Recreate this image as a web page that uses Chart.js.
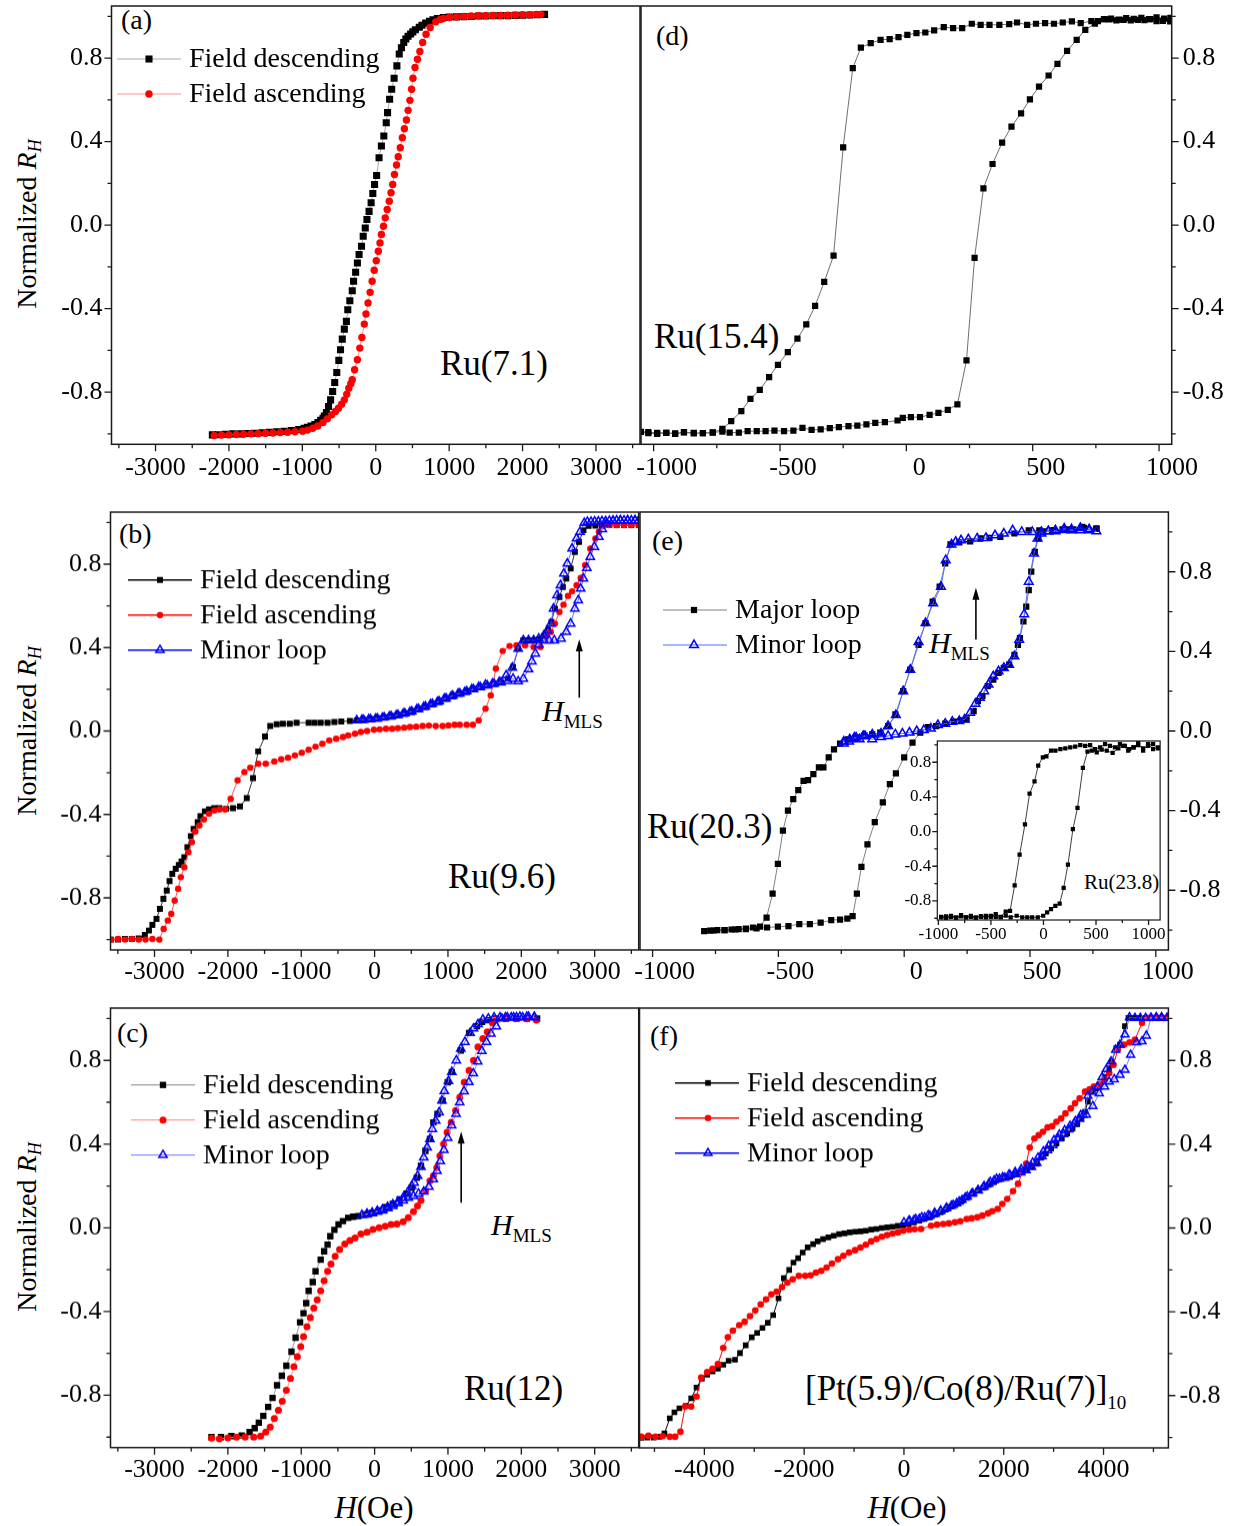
<!DOCTYPE html>
<html><head><meta charset="utf-8">
<script src="https://cdn.jsdelivr.net/npm/chart.js@4/dist/chart.umd.min.js"></script>
<style>
html,body{margin:0;padding:0;background:#fff;}
body{width:1237px;height:1526px;position:relative;overflow:hidden;font-family:'Liberation Serif','Times New Roman',serif;color:#000;}
canvas{position:absolute;}
.t{position:absolute;white-space:nowrap;line-height:1;transform:translateY(-50%);}
.c{position:absolute;white-space:nowrap;line-height:1;transform:translate(-50%,-50%);}
.yt{position:absolute;white-space:nowrap;line-height:1;font-size:28px;transform:translate(-50%,-50%) rotate(-90deg);}
.sub{position:relative;}
</style></head><body>
<div class="t" style="left:121px;top:20px;font-size:28px">(a)</div>
<div class="t" style="left:656px;top:36px;font-size:28px">(d)</div>
<div class="t" style="left:119px;top:534px;font-size:28px">(b)</div>
<div class="t" style="left:652px;top:541px;font-size:28px">(e)</div>
<div class="t" style="left:117px;top:1033px;font-size:28px">(c)</div>
<div class="t" style="left:650px;top:1036px;font-size:28px">(f)</div>
<div class="t" style="left:440px;top:363px;font-size:35px">Ru(7.1)</div>
<div class="t" style="left:654px;top:336px;font-size:35px">Ru(15.4)</div>
<div class="t" style="left:448px;top:876px;font-size:35px">Ru(9.6)</div>
<div class="t" style="left:647px;top:826px;font-size:35px">Ru(20.3)</div>
<div class="t" style="left:464px;top:1388px;font-size:35px">Ru(12)</div>
<div class="t" style="left:805px;top:1388px;font-size:35px">[Pt(5.9)/Co(8)/Ru(7)]<span class="sub" style="font-size:19px;top:9px">10</span></div>
<div class="t" style="left:1084px;top:882px;font-size:21px">Ru(23.8)</div>
<div class="t" style="left:542px;top:711px;font-size:30px"><i>H</i><span class="sub" style="font-size:19px;top:7px">MLS</span></div>
<div class="t" style="left:929px;top:643px;font-size:30px"><i>H</i><span class="sub" style="font-size:19px;top:7px">MLS</span></div>
<div class="t" style="left:491px;top:1225px;font-size:30px"><i>H</i><span class="sub" style="font-size:19px;top:7px">MLS</span></div>
<div class="c" style="left:374px;top:1507px;font-size:31px"><i>H</i>(Oe)</div>
<div class="c" style="left:907px;top:1507px;font-size:31px"><i>H</i>(Oe)</div>
<div class="yt" style="left:27px;top:224px">Normalized <i>R</i><i class="sub" style="font-size:18px;top:5px">H</i></div>
<div class="yt" style="left:27px;top:731px">Normalized <i>R</i><i class="sub" style="font-size:18px;top:5px">H</i></div>
<div class="yt" style="left:27px;top:1227px">Normalized <i>R</i><i class="sub" style="font-size:18px;top:5px">H</i></div>
<script>
// ---------- tick values ----------
const ticksWideX = [-3000,-2000,-1000,0,1000,2000,3000];
const minorWideX = [-3500,-2500,-1500,-500,500,1500,2500,3500];
const ticksNarrowX = [-1000,-500,0,500,1000];
const minorNarrowX = [-750,-250,250,750];
const ticksF_X = [-4000,-2000,0,2000,4000];
const minorF_X = [-5000,-3000,-1000,1000,3000,5000];
const ticksY = [-0.8,-0.4,0,0.4,0.8];
const minorY = [-1.0,-0.6,-0.2,0.2,0.6,1.0];

// ---------- (a) Ru(7.1) ----------
const aDescH = [2300,2200,2100,2000,1900,1800,1700,1600,1500,1400,1300,1200,1100,1000,920,840,780,733,680,630,593,540,505,475,440,410,381,350,320,288,250,217,189,161,143,110,77,45,12,-16,-40,-63,-91,-120,-143,-171,-194,-227,-250,-274,-302,-320,-353,-381,-400,-428,-456,-480,-503,-531,-559,-587,-615,-643,-672,-700,-718,-750,-788,-830,-881,-930,-975,-1050,-1150,-1250,-1350,-1450,-1550,-1650,-1750,-1850,-1950,-2050,-2150,-2226];
const aDescR = [1.01,1.008,1.007,1.006,1.005,1.004,1.004,1.003,1.002,1.002,1.0,0.999,0.998,0.997,0.995,0.99,0.984,0.977,0.968,0.958,0.948,0.936,0.926,0.916,0.905,0.892,0.875,0.85,0.82,0.763,0.704,0.651,0.603,0.539,0.491,0.427,0.379,0.323,0.238,0.195,0.152,0.107,0.066,0.027,-0.014,-0.053,-0.101,-0.141,-0.181,-0.226,-0.269,-0.314,-0.362,-0.405,-0.461,-0.498,-0.546,-0.597,-0.648,-0.706,-0.754,-0.797,-0.837,-0.869,-0.898,-0.915,-0.925,-0.935,-0.946,-0.955,-0.962,-0.968,-0.973,-0.979,-0.984,-0.988,-0.99,-0.993,-0.995,-0.997,-0.998,-1.0,-1.0,-1.002,-1.004,-1.005];
const aAscH = [-2200,-2100,-2000,-1900,-1800,-1700,-1600,-1500,-1400,-1300,-1200,-1100,-997,-930,-859,-790,-719,-660,-602,-550,-508,-465,-428,-395,-367,-340,-320,-288,-250,-217,-189,-156,-133,-105,-77,-49,-21,7,35,58,77,105,129,156,184,208,231,255,283,306,334,362,390,418,441,465,488,507,535,568,601,639,685,742,817,880,920,1000,1100,1200,1300,1400,1500,1600,1700,1800,1900,2000,2100,2200,2250];
const aAscR = [-1.008,-1.006,-1.005,-1.003,-1.002,-1.0,-0.999,-0.997,-0.996,-0.994,-0.992,-0.99,-0.987,-0.982,-0.973,-0.962,-0.946,-0.928,-0.909,-0.893,-0.877,-0.858,-0.837,-0.81,-0.781,-0.76,-0.741,-0.693,-0.645,-0.589,-0.538,-0.474,-0.426,-0.373,-0.322,-0.269,-0.216,-0.17,-0.125,-0.085,-0.045,-0.005,0.035,0.075,0.115,0.155,0.195,0.243,0.288,0.328,0.371,0.419,0.462,0.504,0.55,0.598,0.651,0.704,0.755,0.795,0.832,0.875,0.915,0.947,0.974,0.985,0.99,0.995,0.998,1.0,1.002,1.003,1.004,1.005,1.005,1.006,1.007,1.008,1.008,1.01,1.01];

// ---------- (d) Ru(15.4) ----------
const dUpperH = [1044,1015,990,966,942,916,888,860,831,803,782,758,732,690,655,619,584,549,513,478,438,407,368,329,294,259,221,185,148,110,75,40,4,-31,-66,-102,-141,-180,-212,-250,-288,-325,-361,-396,-431,-469,-508,-543,-580,-617,-653,-693,-728,-766,-805,-841,-880,-915,-950,-986,-1021,-1050];
const dUpperR = [0.976,0.979,0.978,0.987,0.982,0.984,0.981,0.983,0.981,0.986,0.987,0.978,0.978,0.968,0.976,0.971,0.965,0.968,0.965,0.96,0.971,0.963,0.96,0.96,0.96,0.965,0.944,0.944,0.949,0.933,0.923,0.92,0.912,0.901,0.891,0.888,0.872,0.851,0.752,0.373,-0.146,-0.272,-0.387,-0.475,-0.544,-0.608,-0.669,-0.728,-0.789,-0.832,-0.891,-0.939,-0.976,-0.994,-0.997,-0.995,-0.992,-1.0,-0.995,-0.995,-0.992,-0.99];
const dLowerH = [-1021,-986,-950,-915,-880,-841,-805,-766,-728,-699,-663,-628,-592,-557,-522,-484,-447,-411,-375,-339,-303,-267,-229,-194,-158,-123,-85,-35,-14,18,54,92,127,164,202,238,270,305,341,379,416,454,489,525,563,598,636,674,708,746,782,810,840,870,900,930,960,990,1020,1045];
const dLowerR = [-0.997,-1.0,-0.995,-0.998,-0.993,-0.998,-0.996,-0.993,-0.989,-0.994,-0.994,-0.987,-0.987,-0.987,-0.984,-0.987,-0.984,-0.971,-0.981,-0.979,-0.973,-0.968,-0.963,-0.96,-0.955,-0.947,-0.944,-0.936,-0.923,-0.92,-0.92,-0.909,-0.899,-0.885,-0.859,-0.648,-0.157,0.176,0.293,0.395,0.472,0.536,0.603,0.664,0.717,0.773,0.835,0.888,0.936,0.965,0.987,0.99,0.985,0.992,0.988,0.993,0.987,0.995,0.99,0.993];

// ---------- (b) Ru(9.6) : [H, RH] ----------
const bDesc = [[3600,0.987],[3500,0.987],[3400,0.987],[3300,0.987],[3200,0.987],[3100,0.987],[3010,0.985],[2917,0.984],[2847,0.963],[2786,0.907],[2730,0.859],[2673,0.779],[2613,0.731],[2566,0.691],[2519,0.643],[2458,0.587],[2411,0.523],[2365,0.483],[2308,0.456],[2238,0.44],[2168,0.435],[2098,0.435],[2027,0.435],[1957,0.395],[1887,0.307],[1817,0.251],[1723,0.235],[1629,0.227],[1536,0.219],[1442,0.211],[1348,0.203],[1255,0.192],[1161,0.182],[1067,0.171],[974,0.158],[880,0.146],[787,0.131],[693,0.118],[599,0.107],[506,0.096],[412,0.086],[318,0.078],[225,0.072],[131,0.066],[37,0.061],[-56,0.058],[-150,0.054],[-243,0.051],[-337,0.048],[-454,0.046],[-548,0.043],[-641,0.04],[-735,0.04],[-819,0.04],[-899,0.04],[-1063,0.04],[-1156,0.035],[-1250,0.035],[-1334,0.032],[-1423,0.024],[-1494,-0.026],[-1587,-0.098],[-1657,-0.226],[-1742,-0.322],[-1835,-0.362],[-1929,-0.37],[-2023,-0.373],[-2116,-0.37],[-2186,-0.37],[-2257,-0.376],[-2313,-0.385],[-2374,-0.408],[-2411,-0.437],[-2467,-0.469],[-2505,-0.504],[-2552,-0.557],[-2594,-0.605],[-2631,-0.626],[-2669,-0.642],[-2711,-0.661],[-2758,-0.685],[-2795,-0.72],[-2833,-0.765],[-2879,-0.805],[-2926,-0.853],[-2973,-0.901],[-3029,-0.93],[-3076,-0.957],[-3132,-0.978],[-3216,-0.994],[-3310,-0.997],[-3404,-0.997],[-3497,-1.0],[-3591,-1.0]];
const bAsc = [[-3591,-1.0],[-3497,-0.997],[-3404,-1.0],[-3310,-0.997],[-3216,-1.0],[-3123,-1.0],[-3029,-0.997],[-2935,-1.0],[-2875,-0.949],[-2819,-0.909],[-2772,-0.877],[-2725,-0.813],[-2678,-0.757],[-2641,-0.701],[-2594,-0.653],[-2538,-0.581],[-2491,-0.533],[-2444,-0.482],[-2388,-0.453],[-2327,-0.424],[-2257,-0.397],[-2186,-0.381],[-2116,-0.376],[-2037,-0.376],[-1962,-0.325],[-1868,-0.237],[-1775,-0.197],[-1695,-0.176],[-1587,-0.157],[-1484,-0.157],[-1367,-0.146],[-1273,-0.136],[-1180,-0.128],[-1086,-0.117],[-993,-0.104],[-899,-0.09],[-805,-0.075],[-712,-0.061],[-618,-0.045],[-524,-0.037],[-431,-0.029],[-361,-0.021],[-267,-0.013],[-187,-0.005],[-103,0.0],[-9,0.006],[70,0.008],[155,0.011],[239,0.011],[318,0.014],[403,0.016],[482,0.019],[567,0.021],[655,0.024],[740,0.026],[833,0.024],[927,0.024],[1007,0.027],[1091,0.03],[1161,0.03],[1255,0.03],[1339,0.03],[1419,0.051],[1512,0.107],[1583,0.171],[1653,0.299],[1746,0.384],[1840,0.408],[1934,0.411],[2051,0.411],[2168,0.403],[2261,0.403],[2346,0.456],[2402,0.475],[2458,0.515],[2519,0.571],[2575,0.606],[2636,0.648],[2692,0.67],[2753,0.699],[2809,0.734],[2870,0.795],[2940,0.875],[3010,0.923],[3057,0.955],[3114,0.984],[3200,0.987],[3300,0.987],[3400,0.987],[3500,0.987],[3600,0.987]];
const bMinor = [[3600,1.01],[3550,1.01],[3500,1.01],[3450,1.01],[3400,1.01],[3350,1.01],[3300,1.01],[3250,1.008],[3200,1.008],[3150,1.006],[3100,1.006],[3050,1.005],[3000,1.005],[2950,1.003],[2900,1.003],[2858,0.998],[2800,0.955],[2753,0.923],[2692,0.875],[2627,0.803],[2580,0.755],[2533,0.699],[2486,0.651],[2439,0.587],[2402,0.515],[2355,0.483],[2308,0.459],[2238,0.443],[2168,0.435],[2098,0.435],[2027,0.435],[1957,0.395],[1877,0.304],[1793,0.267],[1700,0.235],[1606,0.227],[1512,0.222],[1419,0.211],[1325,0.2],[1231,0.187],[1138,0.179],[1044,0.166],[950,0.155],[857,0.139],[763,0.128],[670,0.115],[576,0.104],[482,0.091],[389,0.083],[295,0.075],[201,0.069],[108,0.064],[14,0.059],[-80,0.056],[-173,0.054],[-243,0.051],[-150,0.053],[-56,0.056],[37,0.06],[131,0.065],[225,0.071],[318,0.077],[412,0.085],[506,0.094],[599,0.105],[693,0.117],[787,0.13],[880,0.142],[974,0.156],[1067,0.169],[1161,0.18],[1255,0.19],[1348,0.2],[1442,0.21],[1536,0.218],[1629,0.226],[1723,0.233],[1817,0.24],[1887,0.251],[1957,0.238],[2027,0.251],[2098,0.296],[2144,0.334],[2191,0.371],[2238,0.414],[2308,0.435],[2378,0.435],[2449,0.435],[2542,0.443],[2613,0.475],[2673,0.515],[2730,0.587],[2776,0.627],[2809,0.683],[2847,0.731],[2893,0.782],[2940,0.835],[2996,0.883],[3057,0.931],[3104,0.968],[3160,0.995],[3250,1.008],[3350,1.01],[3450,1.01],[3550,1.01]];

// ---------- (e) Ru(20.3) and inset Ru(23.8) ----------
const eMajor = [[764,1.017],[707,1.025],[651,1.013],[594,1.008],[537,1.008],[495,1.008],[438,0.992],[382,0.975],[339,0.97],[304,0.967],[262,0.953],[219,0.947],[184,0.937],[163,0.842],[141,0.725],[113,0.65],[85,0.542],[57,0.433],[24,0.308],[-4,0.2],[-35,0.083],[-64,0.025],[-95,-0.008],[-127,-0.017],[-158,-0.022],[-191,-0.033],[-223,-0.042],[-255,-0.063],[-279,-0.092],[-300,-0.133],[-321,-0.183],[-339,-0.183],[-361,-0.217],[-382,-0.247],[-400,-0.25],[-421,-0.297],[-441,-0.342],[-462,-0.4],[-482,-0.5],[-502,-0.667],[-523,-0.817],[-547,-0.937],[-573,-0.983],[-601,-0.987],[-629,-0.992],[-658,-0.995],[-686,-0.997],[-714,-1.0],[-743,-1.0],[-771,-1.003],[-795,-1.005],[-757,-1.002],[-714,-1.0],[-672,-0.997],[-629,-0.995],[-587,-0.992],[-545,-0.987],[-502,-0.983],[-460,-0.98],[-417,-0.97],[-375,-0.97],[-332,-0.963],[-290,-0.95],[-255,-0.947],[-226,-0.942],[-205,-0.93],[-188,-0.817],[-170,-0.683],[-146,-0.57],[-117,-0.458],[-85,-0.358],[-57,-0.267],[-33,-0.213],[0,-0.133],[33,-0.058],[64,-0.008],[95,0.02],[127,0.025],[163,0.037],[198,0.047],[226,0.053],[248,0.058],[276,0.1],[293,0.15],[311,0.175],[332,0.225],[354,0.258],[375,0.292],[396,0.317],[417,0.333],[438,0.383],[452,0.433],[460,0.467],[474,0.55],[485,0.625],[495,0.708],[505,0.8],[519,0.9],[533,0.967],[552,1.003],[587,1.008],[629,1.013],[672,1.013],[714,1.02],[764,1.017]];
const eMinor = [[-240,-0.063],[-219,-0.053],[-198,-0.033],[-177,-0.042],[-156,-0.025],[-127,-0.042],[-92,-0.03],[-64,-0.025],[-35,-0.017],[-7,-0.013],[21,-0.008],[50,0.0],[78,0.005],[106,0.012],[134,0.03],[163,0.037],[191,0.047],[219,0.05],[240,0.058],[262,0.092],[283,0.137],[301,0.167],[318,0.2],[335,0.233],[354,0.275],[375,0.3],[396,0.317],[417,0.333],[438,0.375],[457,0.458],[477,0.587],[495,0.75],[516,0.892],[530,0.967],[545,0.992],[573,1.003],[601,1.008],[636,1.017],[665,1.013],[700,1.02],[735,1.008],[764,1.003],[735,1.013],[700,1.008],[665,1.008],[636,1.01],[601,1.003],[573,1.003],[545,1.0],[509,1.0],[467,1.0],[431,1.008],[396,0.992],[361,0.983],[325,0.97],[290,0.967],[255,0.963],[226,0.958],[205,0.95],[188,0.937],[165,0.858],[146,0.725],[115,0.642],[85,0.542],[57,0.447],[24,0.308],[-4,0.2],[-33,0.08],[-64,0.025],[-92,-0.013],[-127,-0.017],[-163,-0.025],[-191,-0.033],[-216,-0.042],[-240,-0.053]];
const insetLoop = [[1090,0.971],[1043,0.952],[995,1.01],[948,0.933],[901,1.029],[860,0.971],[816,0.952],[775,0.99],[728,1.01],[680,0.971],[633,0.99],[586,1.01],[539,0.971],[491,0.952],[444,0.998],[397,0.99],[350,0.998],[302,0.979],[255,0.971],[208,0.96],[161,0.952],[113,0.933],[72,0.933],[28,0.869],[-6,0.857],[-50,0.762],[-85,0.579],[-132,0.438],[-176,0.084],[-227,-0.267],[-274,-0.621],[-318,-0.914],[-359,-0.922],[-406,-0.983],[-454,-0.952],[-501,-0.983],[-548,-0.971],[-595,-0.983],[-643,-0.99],[-690,-0.971],[-737,-0.99],[-784,-0.964],[-831,-0.99],[-879,-0.971],[-926,-0.979],[-973,-0.99],[-973,-0.983],[-926,-0.998],[-879,-0.983],[-831,-0.998],[-784,-0.979],[-737,-0.99],[-690,-0.983],[-643,-0.998],[-595,-0.975],[-548,-0.99],[-501,-0.971],[-454,-0.983],[-406,-0.99],[-359,-0.971],[-312,-0.99],[-255,-0.971],[-202,-0.99],[-154,-0.99],[-107,-0.99],[-54,-0.99],[-3,-0.971],[35,-0.933],[72,-0.895],[113,-0.857],[154,-0.83],[192,-0.648],[233,-0.381],[280,0.027],[324,0.274],[375,0.735],[419,0.922],[460,0.933],[507,0.914],[554,0.945],[602,0.933],[658,0.907],[712,0.96],[759,0.99],[806,0.933],[854,0.971],[901,0.998],[948,0.96],[995,0.99],[1043,1.01],[1090,0.96]];

// ---------- (c) Ru(12) ----------
const cDesc = [[2215,1.0],[2074,1.0],[1934,1.0],[1793,1.0],[1653,1.0],[1536,0.992],[1465,0.984],[1395,0.963],[1288,0.931],[1175,0.848],[1053,0.744],[997,0.696],[927,0.608],[857,0.544],[801,0.504],[754,0.424],[693,0.368],[632,0.296],[576,0.24],[506,0.192],[435,0.163],[342,0.136],[248,0.115],[155,0.099],[61,0.083],[-33,0.072],[-126,0.064],[-220,0.056],[-290,0.053],[-360,0.048],[-431,0.032],[-492,0.016],[-548,-0.01],[-604,-0.04],[-641,-0.08],[-688,-0.112],[-735,-0.152],[-805,-0.208],[-843,-0.259],[-899,-0.301],[-932,-0.36],[-969,-0.408],[-1016,-0.451],[-1077,-0.525],[-1133,-0.592],[-1203,-0.659],[-1264,-0.707],[-1330,-0.752],[-1391,-0.813],[-1451,-0.856],[-1517,-0.899],[-1578,-0.931],[-1634,-0.957],[-1704,-0.976],[-1812,-0.992],[-1952,-0.995],[-2093,-1.0],[-2224,-1.0]];
const cAsc = [[-2224,-1.005],[-2116,-1.008],[-1999,-1.003],[-1882,-1.0],[-1765,-1.0],[-1648,-1.0],[-1554,-0.995],[-1484,-0.976],[-1423,-0.952],[-1367,-0.912],[-1311,-0.872],[-1259,-0.829],[-1203,-0.776],[-1147,-0.72],[-1100,-0.664],[-1053,-0.616],[-1007,-0.568],[-969,-0.52],[-922,-0.472],[-876,-0.429],[-829,-0.384],[-782,-0.344],[-735,-0.301],[-688,-0.253],[-641,-0.208],[-595,-0.173],[-538,-0.136],[-477,-0.104],[-407,-0.077],[-337,-0.061],[-267,-0.048],[-187,-0.029],[-103,-0.021],[-23,-0.008],[61,0.0],[145,0.008],[225,0.016],[304,0.019],[389,0.029],[459,0.048],[529,0.077],[585,0.104],[632,0.131],[693,0.176],[754,0.224],[801,0.248],[848,0.288],[890,0.344],[941,0.4],[988,0.456],[1044,0.504],[1105,0.56],[1161,0.624],[1222,0.696],[1288,0.752],[1348,0.8],[1409,0.864],[1475,0.904],[1536,0.936],[1606,0.979],[1653,0.995],[1793,1.0],[1934,1.0],[2074,0.998],[2205,0.992]];
const cMinor = [[2177,1.008],[2098,1.008],[2018,1.005],[1934,1.005],[1863,1.005],[1784,1.005],[1709,1.005],[1629,1.005],[1550,1.0],[1475,0.995],[1409,0.973],[1348,0.952],[1302,0.931],[1231,0.888],[1175,0.856],[1114,0.8],[1053,0.744],[1007,0.701],[950,0.653],[918,0.608],[880,0.552],[833,0.512],[787,0.472],[754,0.424],[716,0.384],[670,0.336],[632,0.291],[585,0.248],[538,0.216],[506,0.2],[449,0.168],[389,0.144],[318,0.125],[248,0.112],[178,0.099],[108,0.088],[37,0.08],[-33,0.072],[-103,0.067],[-173,0.061],[-103,0.064],[-33,0.069],[37,0.077],[108,0.083],[178,0.093],[248,0.104],[318,0.117],[389,0.131],[459,0.144],[529,0.152],[599,0.163],[670,0.173],[740,0.196],[800,0.232],[850,0.272],[895,0.318],[945,0.372],[995,0.43],[1050,0.49],[1110,0.545],[1160,0.6],[1220,0.652],[1285,0.696],[1345,0.738],[1405,0.795],[1462,0.845],[1525,0.888],[1585,0.928],[1660,0.962],[1735,1.0],[1810,1.005],[1895,1.005],[1980,1.008],[2074,1.008],[2177,1.005]];

// ---------- (f) [Pt(5.9)/Co(8)/Ru(7)]10 ----------
const fDesc = [[5272,1.003],[5129,1.003],[4986,1.003],[4843,1.003],[4700,1.003],[4593,1.003],[4500,1.003],[4429,0.963],[4329,0.875],[4257,0.859],[4164,0.795],[4114,0.763],[4021,0.72],[3936,0.688],[3843,0.667],[3757,0.651],[3686,0.603],[3629,0.555],[3557,0.523],[3471,0.496],[3379,0.475],[3271,0.451],[3164,0.427],[3057,0.403],[2950,0.379],[2843,0.355],[2757,0.336],[2664,0.307],[2557,0.291],[2450,0.28],[2343,0.267],[2236,0.256],[2129,0.243],[2021,0.24],[1914,0.232],[1807,0.219],[1700,0.206],[1593,0.192],[1486,0.179],[1379,0.166],[1271,0.147],[1164,0.131],[1057,0.115],[950,0.102],[843,0.088],[736,0.075],[629,0.064],[521,0.051],[414,0.043],[307,0.035],[200,0.027],[93,0.019],[-14,0.014],[-121,0.01],[-229,0.006],[-336,0.003],[-443,0.0],[-550,-0.005],[-657,-0.008],[-764,-0.013],[-871,-0.016],[-979,-0.018],[-1086,-0.021],[-1193,-0.026],[-1300,-0.029],[-1407,-0.037],[-1514,-0.045],[-1621,-0.053],[-1729,-0.064],[-1821,-0.077],[-1929,-0.093],[-2029,-0.117],[-2121,-0.144],[-2214,-0.165],[-2300,-0.2],[-2407,-0.24],[-2514,-0.336],[-2621,-0.416],[-2729,-0.453],[-2836,-0.477],[-2943,-0.501],[-3050,-0.522],[-3171,-0.56],[-3286,-0.597],[-3386,-0.629],[-3514,-0.634],[-3621,-0.653],[-3729,-0.672],[-3836,-0.685],[-3943,-0.701],[-4050,-0.72],[-4157,-0.762],[-4264,-0.813],[-4371,-0.85],[-4500,-0.861],[-4600,-0.88],[-4693,-0.909],[-4800,-0.981],[-4907,-0.997],[-5014,-1.0],[-5143,-1.0],[-5264,-1.002]];
const fAsc = [[-5264,-0.997],[-5121,-0.992],[-4979,-0.997],[-4836,-0.994],[-4693,-0.997],[-4586,-0.997],[-4479,-0.973],[-4386,-0.853],[-4264,-0.853],[-4157,-0.805],[-4064,-0.714],[-3943,-0.688],[-3836,-0.672],[-3729,-0.65],[-3621,-0.573],[-3529,-0.522],[-3429,-0.49],[-3300,-0.464],[-3193,-0.448],[-3086,-0.421],[-2979,-0.394],[-2871,-0.365],[-2764,-0.341],[-2657,-0.317],[-2550,-0.304],[-2443,-0.282],[-2336,-0.261],[-2229,-0.245],[-2107,-0.229],[-1979,-0.229],[-1871,-0.226],[-1764,-0.213],[-1657,-0.205],[-1550,-0.189],[-1443,-0.17],[-1321,-0.149],[-1214,-0.133],[-1100,-0.117],[-979,-0.106],[-871,-0.093],[-764,-0.08],[-657,-0.064],[-550,-0.053],[-443,-0.042],[-336,-0.034],[-229,-0.026],[-121,-0.021],[-14,-0.013],[107,-0.008],[214,-0.006],[343,-0.005],[543,0.011],[664,0.016],[786,0.019],[900,0.022],[1021,0.027],[1129,0.032],[1257,0.043],[1357,0.046],[1471,0.051],[1571,0.059],[1686,0.07],[1771,0.08],[1879,0.091],[1971,0.115],[2071,0.139],[2186,0.176],[2286,0.211],[2379,0.267],[2450,0.307],[2521,0.384],[2614,0.427],[2700,0.443],[2786,0.459],[2879,0.48],[2971,0.486],[3057,0.507],[3150,0.523],[3236,0.547],[3343,0.571],[3429,0.595],[3521,0.619],[3629,0.651],[3721,0.662],[3807,0.675],[3914,0.686],[4021,0.71],[4114,0.739],[4200,0.779],[4286,0.851],[4414,0.875],[4521,0.886],[4629,0.899],[4771,0.979],[4879,1.003],[4986,1.003],[5093,1.003],[5200,1.003],[5307,1.003]];
const fMinor = [[5272,1.003],[5164,1.003],[5057,1.006],[4950,1.003],[4843,1.003],[4736,1.003],[4629,1.003],[4521,1.006],[4429,0.923],[4329,0.875],[4243,0.851],[4150,0.795],[4057,0.758],[3971,0.72],[3879,0.675],[3771,0.651],[3686,0.63],[3593,0.539],[3521,0.52],[3414,0.499],[3307,0.47],[3200,0.448],[3093,0.427],[2986,0.395],[2879,0.371],[2771,0.342],[2664,0.31],[2557,0.291],[2450,0.275],[2343,0.264],[2236,0.256],[2129,0.251],[2021,0.24],[1914,0.235],[1807,0.227],[1700,0.211],[1593,0.195],[1486,0.179],[1379,0.166],[1271,0.15],[1164,0.134],[1057,0.118],[950,0.106],[843,0.093],[736,0.08],[629,0.067],[521,0.058],[414,0.05],[307,0.043],[200,0.038],[93,0.032],[0,0.027],[114,0.035],[236,0.042],[357,0.051],[486,0.061],[614,0.072],[736,0.083],[857,0.096],[986,0.11],[1107,0.126],[1229,0.145],[1357,0.163],[1486,0.181],[1607,0.2],[1729,0.22],[1857,0.235],[1979,0.242],[2107,0.256],[2229,0.267],[2350,0.28],[2471,0.296],[2579,0.312],[2686,0.336],[2793,0.365],[2900,0.392],[3007,0.419],[3114,0.446],[3221,0.467],[3329,0.488],[3436,0.51],[3543,0.539],[3657,0.541],[3786,0.582],[3914,0.643],[4021,0.675],[4114,0.699],[4214,0.71],[4329,0.731],[4429,0.755],[4543,0.827],[4664,0.886],[4771,0.891],[4857,0.918],[4950,1.003],[5057,1.003],[5164,1.006],[5272,1.003]];

// ---------- helpers ----------
const FONT = "'Liberation Serif','Times New Roman',serif";
const zip = (hs, rs) => hs.map((h, i) => ({x: h, y: rs[i]}));
const pts = arr => arr.map(p => ({x: p[0], y: p[1]}));

function drawMarker(ctx, style, x, y, r, fill, stroke, bw) {
  ctx.save();
  ctx.fillStyle = fill; ctx.strokeStyle = stroke; ctx.lineWidth = bw;
  ctx.beginPath();
  if (style === 'rect') { const s = r * Math.SQRT1_2; ctx.rect(x - s, y - s, 2 * s, 2 * s); }
  else if (style === 'triangle') {
    let a = 0;
    ctx.moveTo(x + Math.sin(a) * r, y - Math.cos(a) * r); a += 2 * Math.PI / 3;
    ctx.lineTo(x + Math.sin(a) * r, y - Math.cos(a) * r); a += 2 * Math.PI / 3;
    ctx.lineTo(x + Math.sin(a) * r, y - Math.cos(a) * r); ctx.closePath();
  } else { ctx.arc(x, y, r, 0, 2 * Math.PI); }
  ctx.fill(); if (bw > 0) ctx.stroke();
  ctx.restore();
}

const framePlugin = {
  id: 'frame',
  afterDatasetsDraw(chart, args, o) {
    const {ctx, chartArea: a} = chart; const xs = chart.scales.x, ys = chart.scales.y;
    ctx.save();
    ctx.strokeStyle = '#1a1a1a'; ctx.lineWidth = o.lw;
    ctx.strokeRect(a.left, a.top, a.right - a.left, a.bottom - a.top);
    ctx.lineWidth = o.tw; ctx.beginPath();
    const doX = (vals, len) => vals.forEach(v => { const p = xs.getPixelForValue(v); if (p < a.left - 0.5 || p > a.right + 0.5) return; ctx.moveTo(p, a.bottom); ctx.lineTo(p, a.bottom + len); });
    const doY = (vals, len) => vals.forEach(v => { const p = ys.getPixelForValue(v); if (p < a.top - 0.5 || p > a.bottom + 0.5) return; if (o.side === 'right') { ctx.moveTo(a.right, p); ctx.lineTo(a.right + len, p); } else { ctx.moveTo(a.left, p); ctx.lineTo(a.left - len, p); } });
    doX(o.majX, o.majLen); doX(o.minX, o.minLen); doY(o.majY, o.majLen); doY(o.minY, o.minLen);
    ctx.stroke(); ctx.restore();
  }
};

const legendPlugin = {
  id: 'lg',
  afterDraw(chart, args, o) {
    if (!o.rows) return;
    const ctx = chart.ctx; const [ox, oy] = o.off;
    chart.data.datasets.forEach((ds, i) => {
      const yy = o.rows[i] - oy;
      ctx.save();
      ctx.strokeStyle = o.lineColors ? o.lineColors[i] : ds.borderColor;
      ctx.lineWidth = o.lineW;
      ctx.beginPath(); ctx.moveTo(o.x0 - ox, yy); ctx.lineTo(o.x1 - ox, yy); ctx.stroke();
      drawMarker(ctx, ds.pointStyle, o.xm - ox, yy, ds.pointRadius, ds.pointBackgroundColor, ds.pointBorderColor, ds.pointBorderWidth);
      ctx.fillStyle = '#000'; ctx.font = '28px ' + FONT; ctx.textBaseline = 'middle'; ctx.textAlign = 'left';
      ctx.fillText(ds.label, o.tx - ox, yy + 1);
      ctx.restore();
    });
  }
};

const arrowPlugin = {
  id: 'arrow',
  afterDraw(chart, args, o) {
    if (o.at === undefined) return;
    const ctx = chart.ctx;
    const X = chart.scales.x.getPixelForValue(o.at);
    const Y0 = chart.scales.y.getPixelForValue(o.from), Y1 = chart.scales.y.getPixelForValue(o.to);
    ctx.save(); ctx.strokeStyle = '#000'; ctx.fillStyle = '#000'; ctx.lineWidth = 1.6;
    ctx.beginPath(); ctx.moveTo(X, Y0); ctx.lineTo(X, Y1 + 8); ctx.stroke();
    ctx.beginPath(); ctx.moveTo(X, Y1); ctx.lineTo(X - 3.5, Y1 + 12); ctx.lineTo(X + 3.5, Y1 + 12); ctx.closePath(); ctx.fill();
    ctx.restore();
  }
};

function panel(o) {
  const [L, T0, W, H0] = o.box; const [x0, y0, x1, y1] = o.area;
  const T = Math.min(T0, y0 - 34); const H = T0 + H0 - T;
  const right = o.side === 'right';
  const cv = document.createElement('canvas');
  cv.width = W; cv.height = H; cv.style.left = L + 'px'; cv.style.top = T + 'px';
  cv.style.width = W + 'px'; cv.style.height = H + 'px';
  document.body.appendChild(cv);
  const fs = o.fs || 26;
  return new Chart(cv, {
    type: 'scatter',
    data: {datasets: o.datasets},
    options: {
      responsive: false, animation: false, events: [], devicePixelRatio: 1,
      layout: {padding: {left: right ? x0 - L : 0, right: right ? 0 : L + W - x1, top: y0 - T, bottom: 0}},
      plugins: {
        legend: {display: false}, tooltip: {enabled: false},
        frame: {side: o.side, majX: o.majX, minX: o.minX, majY: o.majY, minY: o.minY, majLen: o.majLen || 7, minLen: o.minLen || 4, lw: o.lw || 1.5, tw: 1.3},
        lg: o.legend ? Object.assign({off: [L, T], lineW: 1.2}, o.legend) : {},
        arrow: o.arrow || {}
      },
      scales: {
        x: {type: 'linear', position: 'bottom', min: o.xr[0], max: o.xr[1],
          afterFit: s => { s.height = T + H - y1; },
          afterBuildTicks: s => { s.ticks = o.majX.map(v => ({value: v})); },
          grid: {display: false, drawTicks: false}, border: {display: false},
          ticks: {padding: o.xpad, labelOffset: o.xoff || 0, maxRotation: 0, minRotation: 0, autoSkip: false, color: '#000', font: {family: FONT, size: fs}, callback: v => String(v)}},
        y: {type: 'linear', position: o.side, min: o.yr[0], max: o.yr[1],
          afterFit: s => { s.width = right ? L + W - x1 : x0 - L; },
          afterBuildTicks: s => { s.ticks = o.majY.map(v => ({value: v})); },
          grid: {display: false, drawTicks: false}, border: {display: false},
          ticks: {padding: o.ypad, autoSkip: false, color: '#000', font: {family: FONT, size: fs}, callback: v => Number(v).toFixed(1)}}
      }
    },
    plugins: [framePlugin, legendPlugin, arrowPlugin]
  });
}

const sq = (label, data, r, line) => ({label, data, showLine: true, borderColor: line, borderWidth: 1, pointStyle: 'rect', pointRadius: r, pointBackgroundColor: '#000', pointBorderColor: '#000', pointBorderWidth: 0, order: 3});
const ci = (label, data, r, line) => ({label, data, showLine: true, borderColor: line, borderWidth: 1, pointStyle: 'circle', pointRadius: r, pointBackgroundColor: '#ff0000', pointBorderColor: '#ff0000', pointBorderWidth: 0, order: 2});
const tr = (label, data, r, line) => ({label, data, showLine: true, borderColor: line, borderWidth: 1, pointStyle: 'triangle', pointRadius: r, pointBackgroundColor: 'rgba(255,255,255,0)', pointBorderColor: '#0000ff', pointBorderWidth: 1.5, order: 1});

// (a)
panel({box: [0, 0, 645, 495], area: [111.5, 6, 641, 444.3], side: 'left', xr: [-3600, 3600], yr: [-1.05, 1.05],
  majX: ticksWideX, minX: minorWideX, majY: ticksY, minY: minorY, xpad: 8, ypad: 9,
  datasets: [sq('Field descending', zip(aDescH, aDescR), 5, '#a8a8a8'), ci('Field ascending', zip(aAscH, aAscR), 3.7, '#ff9090')],
  legend: {x0: 117, x1: 181, xm: 149, rows: [59, 94], tx: 189}});
// (d)
panel({box: [575, 0, 662, 495], area: [641, 6, 1171.7, 444.3], side: 'right', xr: [-1050, 1050], yr: [-1.05, 1.05],
  majX: ticksNarrowX, minX: minorNarrowX, majY: ticksY, minY: minorY, xpad: 8, ypad: 11, xoff: 13,
  datasets: [sq('Ru(15.4)', zip(dUpperH.concat(dLowerH), dUpperR.concat(dLowerR)), 4.4, '#707070')]});
// (b)
panel({box: [0, 500, 645, 495], area: [110.5, 512.3, 640, 950], side: 'left', xr: [-3600, 3600], yr: [-1.05, 1.05],
  majX: ticksWideX, minX: minorWideX, majY: ticksY, minY: minorY, xpad: 7, ypad: 9,
  datasets: [sq('Field descending', pts(bDesc), 4.2, '#333333'), ci('Field ascending', pts(bAsc), 3.2, '#ff5050'), tr('Minor loop', pts(bMinor), 4.8, '#6a6aff')],
  legend: {x0: 128, x1: 192, xm: 160, rows: [580, 615, 650], tx: 200, lineColors: ['#000', '#ff0000', '#0000ff'], lineW: 1.6},
  arrow: {at: 2790, from: 0.16, to: 0.44}});
// (e)
panel({box: [575, 500, 662, 495], area: [640, 512, 1168.4, 950], side: 'right', xr: [-1050, 1050], yr: [-1.1, 1.1],
  majX: ticksNarrowX, minX: minorNarrowX, majY: ticksY, minY: minorY, xpad: 7, ypad: 11, xoff: 12,
  datasets: [sq('Major loop', pts(eMajor), 4.4, '#808080'), tr('Minor loop', pts(eMinor), 5, '#4f6cff')],
  legend: {x0: 663, x1: 727, xm: 694, rows: [610, 645], tx: 735},
  arrow: {at: 285, from: 0.46, to: 0.72}});
// inset
panel({box: [880, 730, 290, 215], area: [937.3, 741, 1161.7, 920], side: 'left', xr: [-1010, 1110], yr: [-1.02, 1.045],
  majX: ticksNarrowX, minX: minorNarrowX, majY: ticksY, minY: minorY, xpad: 4, ypad: 6, fs: 17, majLen: 5, minLen: 3, lw: 1.2,
  datasets: [sq('Ru(23.8)', pts(insetLoop), 3, '#404040')]});
// (c)
panel({box: [0, 1000, 645, 526], area: [110.5, 1008.3, 639, 1447.7], side: 'left', xr: [-3600, 3600], yr: [-1.05, 1.05],
  majX: ticksWideX, minX: minorWideX, majY: ticksY, minY: minorY, xpad: 7, ypad: 9,
  datasets: [sq('Field descending', pts(cDesc), 4.5, '#9a9a9a'), ci('Field ascending', pts(cAsc), 3.5, '#ff9a9a'), tr('Minor loop', pts(cMinor), 4.8, '#8a8aff')],
  legend: {x0: 131, x1: 195, xm: 163, rows: [1085, 1120, 1155], tx: 203},
  arrow: {at: 1180, from: 0.12, to: 0.46}});
// (f)
panel({box: [575, 1000, 662, 526], area: [639.5, 1008.3, 1168.4, 1448], side: 'right', xr: [-5300, 5300], yr: [-1.05, 1.05],
  majX: ticksF_X, minX: minorF_X, majY: ticksY, minY: minorY, xpad: 7, ypad: 11,
  datasets: [sq('Field descending', pts(fDesc), 4, '#000000'), ci('Field ascending', pts(fAsc), 3.3, '#ff0000'), tr('Minor loop', pts(fMinor), 4.6, '#7a7aff')],
  legend: {x0: 675, x1: 739, xm: 708, rows: [1083, 1118, 1153], tx: 747, lineColors: ['#000', '#ff0000', '#0000ff'], lineW: 1.4}});
</script>
</body></html>
